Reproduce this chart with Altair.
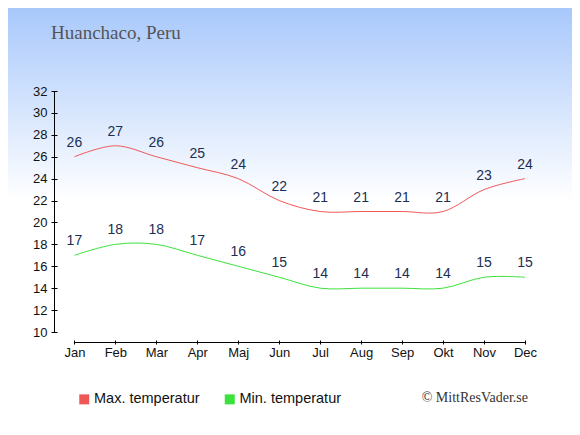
import altair as alt
import pandas as pd

TITLE = "Huanchaco, Peru"
COPYRIGHT = "© MittResVader.se"
MONTHS = ["Jan", "Feb", "Mar", "Apr", "Maj", "Jun", "Jul", "Aug", "Sep", "Okt", "Nov", "Dec"]
SERIES = ["Max. temperatur", "Min. temperatur"]
MAX_T = [26, 27, 26, 25, 24, 22, 21, 21, 21, 21, 23, 24]
MIN_T = [17, 18, 18, 17, 16, 15, 14, 14, 14, 14, 15, 15]
Y_TICKS = list(range(10, 33, 2))
LINE_COLORS = ["#f05858", "#3ce23c"]

rows = []
for i, v in enumerate(MAX_T):
    rows.append({"m": i, "t": v, "s": SERIES[0]})
for i, v in enumerate(MIN_T):
    rows.append({"m": i, "t": v, "s": SERIES[1]})
df = pd.DataFrame(rows)

W, H = 471, 241
month_expr = "[" + ",".join("'%s'" % m for m in MONTHS) + "][datum.value]"

xs = alt.Scale(domain=[0, 11], range=[20.4, W], nice=False, zero=False)
ys = alt.Scale(domain=[10, 32], nice=False, zero=False)

x_axis = alt.Axis(
    values=list(range(12)), labelExpr=month_expr, title=None, grid=False,
    domain=False, offset=8, tickSize=4, tickColor="#000", labelPadding=2,
    labelFlush=False, labelBound=False,
    labelFont="Liberation Sans", labelFontSize=13, labelColor="#111", zindex=2)
y_axis = alt.Axis(
    values=Y_TICKS, title=None, grid=False, domain=False, offset=-3,
    tickSize=6, tickColor="#000", labelPadding=4, labelFlush=False,
    labelFont="Liberation Sans", labelFontSize=13, labelColor="#111", zindex=2)
x_enc = alt.X("m:Q", scale=xs, axis=x_axis)
y_enc = alt.Y("t:Q", scale=ys, axis=y_axis)

bg = alt.Chart(pd.DataFrame({"a": [0]})).mark_rect(
    fill=alt.Gradient(gradient="linear", x1=0, x2=0, y1=0, y2=1, stops=[
        alt.GradientStop(color="#a8c8fb", offset=0),
        alt.GradientStop(color="#ffffff", offset=0.46),
        alt.GradientStop(color="#ffffff", offset=1)])
).encode(x=alt.value(-46), x2=alt.value(W + 47), y=alt.value(-83), y2=alt.value(H + 95))

yrule = alt.Chart(pd.DataFrame({"a": [0]})).mark_rule(color="#000", strokeWidth=1).encode(
    x=alt.value(0.5), y=alt.YDatum(10, scale=ys, axis=y_axis, type="quantitative"),
    y2=alt.Y2Datum(32))
xrule = alt.Chart(pd.DataFrame({"a": [0]})).mark_rule(color="#000", strokeWidth=1).encode(
    x=alt.XDatum(0, scale=xs, axis=x_axis, type="quantitative"), x2=alt.X2Datum(11),
    y=alt.value(H + 10.5))

lines = alt.Chart(df).mark_line(interpolate="cardinal", strokeWidth=1).encode(
    x=x_enc, y=y_enc,
    stroke=alt.Stroke("s:N", scale=alt.Scale(domain=SERIES, range=LINE_COLORS),
                      legend=alt.Legend(
                          title=None, orient="none", legendX=23, legendY=301,
                          direction="horizontal", symbolType="square", symbolSize=25,
                          symbolStrokeWidth=5, symbolOpacity=1, labelFont="Liberation Sans",
                          labelFontSize=14.5, labelColor="#111", labelOffset=2.5,
                          columnPadding=16.5, zindex=2)),
    detail="s:N")

labels = alt.Chart(df).mark_text(
    dy=-14, font="Liberation Sans", fontSize=14, color="#1b2f52", baseline="middle"
).encode(x=x_enc, y=y_enc, text="t:Q")

title = alt.Chart(pd.DataFrame({"t": [TITLE]})).mark_text(
    font="Liberation Serif", fontSize=19, color="#555555", align="left", baseline="alphabetic"
).encode(x=alt.value(-3), y=alt.value(-52), text="t:N")

copy = alt.Chart(pd.DataFrame({"t": [COPYRIGHT]})).mark_text(
    font="Liberation Serif", fontSize=14, color="#333333", align="right", baseline="alphabetic"
).encode(x=alt.value(474), y=alt.value(311), text="t:N")

chart = alt.layer(bg, yrule, xrule, lines, labels, title, copy).properties(
    width=W, height=H,
    autosize=alt.AutoSizeParams(type="none"),
    padding={"left": 46, "top": 83, "right": 47, "bottom": 95},
).configure_view(stroke=None)

chart.save("out.html", embed_options={"renderer": "svg", "actions": False})
